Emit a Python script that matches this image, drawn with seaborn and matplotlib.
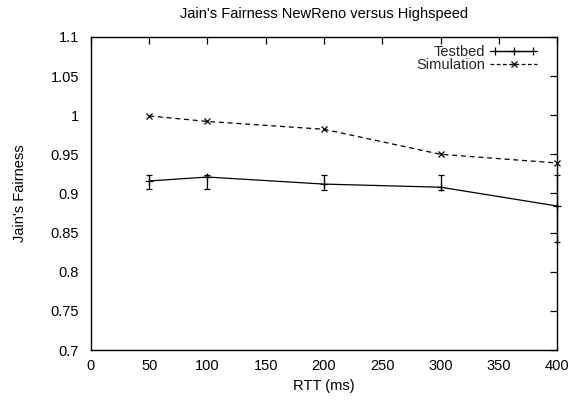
import numpy as np
import pandas as pd
import matplotlib
matplotlib.use("Agg")
import matplotlib.pyplot as plt
import seaborn as sns
from matplotlib.lines import Line2D
from matplotlib.legend_handler import HandlerLine2D, HandlerTuple

rtt = [50, 100, 200, 300, 400]
testbed = [0.916, 0.921, 0.912, 0.908, 0.884]
testbed_low = [0.906, 0.906, 0.905, 0.905, 0.838]
testbed_high = [0.924, 0.924, 0.924, 0.924, 0.923]
simulation = [0.999, 0.992, 0.982, 0.950, 0.939]
yticks = [0.7, 0.75, 0.8, 0.85, 0.9, 0.95, 1.0, 1.05, 1.1]
yticklabels = ["0.7", "0.75", "0.8", "0.85", "0.9", "0.95", "1", "1.05", "1.1"]
xticks = [0, 50, 100, 150, 200, 250, 300, 350, 400]

FS = 10.5
sns.set_theme(style="white")
plt.rcParams['font.family'] = ['Liberation Sans', 'DejaVu Sans']
plt.rcParams['font.size'] = FS

fig = plt.figure(figsize=(5.75, 4.01), dpi=100)
ax = fig.add_axes([0.158, 0.127, 0.811, 0.781])

df = pd.DataFrame({"RTT": rtt, "Testbed": testbed, "Simulation": simulation})
sns.lineplot(data=df, x="RTT", y="Testbed", ax=ax, color="black", lw=0.9,
             marker="+", markersize=6, markeredgewidth=0.9, markeredgecolor="black",
             legend=False, clip_on=False)
sns.lineplot(data=df, x="RTT", y="Simulation", ax=ax, color="black", lw=0.9,
             linestyle=(0, (4, 3)), marker="x", markersize=5, markeredgewidth=0.9,
             markeredgecolor="black", legend=False, clip_on=False)
err = np.array([np.array(testbed) - np.array(testbed_low),
                np.array(testbed_high) - np.array(testbed)])
ax.errorbar(rtt, testbed, yerr=err, fmt="none", ecolor="black", elinewidth=0.9,
            capsize=2.5, capthick=0.9, clip_on=False)

ax.set_xlim(0, 400)
ax.set_ylim(0.7, 1.1)
ax.set_xticks(xticks)
ax.set_xticklabels([str(v) for v in xticks])
ax.set_yticks(yticks)
ax.set_yticklabels(yticklabels)
ax.tick_params(direction="in", length=5, width=0.9, top=True, right=True,
               labelsize=FS, colors="black")
ax.tick_params(axis="x", pad=6.5)
ax.tick_params(axis="y", pad=8.5)
for s in ax.spines.values():
    s.set_visible(True)
    s.set_color("black")
    s.set_linewidth(1.0)
ax.set_xlabel("RTT (ms)", fontsize=FS, color="black", labelpad=4)
ax.set_ylabel("Jain's Fairness", fontsize=FS, color="black", labelpad=17)
ax.set_title("Jain's Fairness NewReno versus Highspeed", fontsize=FS, color="black", pad=13.5)

# legend handles
tb_line = Line2D([], [], color="black", lw=0.9, marker="+", markersize=6, markeredgewidth=0.9)
tb_caps = Line2D([], [], color="black", lw=0.9, marker="|", markersize=6, markeredgewidth=0.9)
sim_line = Line2D([], [], color="black", lw=0.9, linestyle=(0, (3, 2)), marker="x",
                  markersize=5, markeredgewidth=0.9)
leg = ax.legend([(tb_caps, tb_line), sim_line], ["Testbed", "Simulation"],
                handler_map={tb_caps: HandlerLine2D(numpoints=2),
                             tuple: HandlerTuple(ndivide=1, pad=0)},
                loc="upper right", frameon=False, markerfirst=False, numpoints=1,
                fontsize=FS, handlelength=3.2, handletextpad=0.35, labelspacing=-0.05,
                borderaxespad=0.0, bbox_to_anchor=(0.969, 0.993))

fig.savefig("out.png", dpi=100)
